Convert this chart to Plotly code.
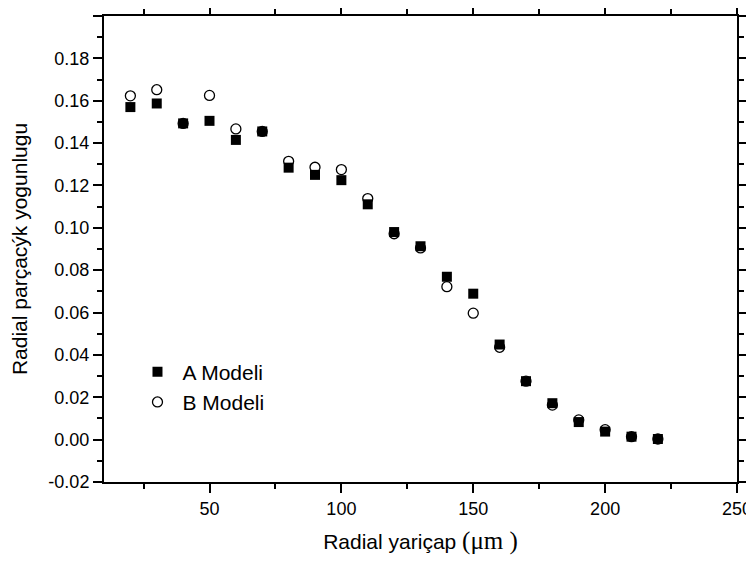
import plotly.graph_objects as go

radius = [20, 30, 40, 50, 60, 70, 80, 90, 100, 110, 120, 130, 140, 150, 160, 170, 180, 190, 200, 210, 220]
model_a = [0.157, 0.1587, 0.1493, 0.1505, 0.1415, 0.1455, 0.1284, 0.125, 0.1225, 0.1111, 0.098,
           0.0913, 0.0769, 0.0689, 0.0449, 0.0276, 0.0172, 0.0083, 0.0038, 0.0014, 0.0003]
model_b = [0.1623, 0.1652, 0.1493, 0.1625, 0.1467, 0.1455, 0.1314, 0.1286, 0.1275, 0.1138, 0.0972,
           0.0905, 0.0722, 0.0597, 0.0436, 0.0276, 0.0163, 0.0093, 0.0047, 0.0014, 0.0003]
names = ["A Modeli", "B Modeli"]

x_ticks = [50, 100, 150, 200, 250]
y_ticks = [-0.02, 0.00, 0.02, 0.04, 0.06, 0.08, 0.10, 0.12, 0.14, 0.16, 0.18, 0.20]
y_tick_labels = ["-0.02", "0.00", "0.02", "0.04", "0.06", "0.08", "0.10", "0.12", "0.14", "0.16", "0.18", "0.20"]

x_range = [10, 250]
y_range = [-0.02, 0.20]

FONT = "Liberation Sans, Arial, Helvetica, sans-serif"

fig = go.Figure()
fig.add_trace(go.Scatter(
    x=radius, y=model_a, mode="markers", name=names[0],
    marker=dict(symbol="square", size=10, color="black", line=dict(width=0)),
))
fig.add_trace(go.Scatter(
    x=radius, y=model_b, mode="markers", name=names[1],
    marker=dict(symbol="circle-open", size=10, color="black", line=dict(width=1.3, color="black")),
))

tickfont = dict(family=FONT, size=18, color="black")

# the page body adds an 8px offset, so the figure is 8px smaller and shifted
fig.update_layout(
    template="simple_white",
    width=746, height=553,
    margin=dict(l=96, r=17, t=8, b=79),
    font=dict(family=FONT, color="black"),
    showlegend=True,
    legend=dict(x=0.045, y=0.28, xanchor="left", yanchor="top",
                bgcolor="rgba(0,0,0,0)", borderwidth=0,
                font=dict(family=FONT, size=21, color="black"),
                itemwidth=40, tracegroupgap=0),
    xaxis=dict(range=x_range, tickvals=x_ticks, ticks="outside", tickfont=tickfont,
               showgrid=False, zeroline=False, showline=True, mirror="ticks", automargin=False,
               linecolor="black", linewidth=2, tickcolor="black", tickwidth=2, ticklen=9,
               minor=dict(ticks="outside", ticklen=5, dtick=25, tick0=0, tickcolor="black", tickwidth=2),
               title=dict(text="Radial yariçap <span style='font-family:Liberation Serif; font-size:25px'>(μm )</span>",
                          font=dict(family=FONT, size=21, color="black"), standoff=17)),
    yaxis=dict(range=y_range, tickvals=y_ticks, ticktext=y_tick_labels, ticks="outside", tickfont=tickfont,
               showgrid=False, zeroline=False, showline=True, mirror="ticks", automargin=False,
               linecolor="black", linewidth=2, tickcolor="black", tickwidth=2, ticklen=9,
               minor=dict(ticks="outside", ticklen=5, dtick=0.01, tick0=0, tickcolor="black", tickwidth=2),
               title=dict(text="Radial parçacýk yogunlugu",
                          font=dict(family=FONT, size=21, color="black"), standoff=19)),
)

fig.write_html("out.html")
